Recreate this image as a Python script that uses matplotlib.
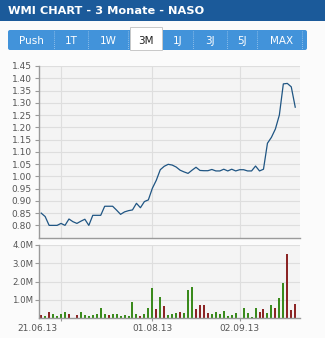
import matplotlib
matplotlib.use("Agg")
import matplotlib.pyplot as plt
from matplotlib.patches import Rectangle, FancyBboxPatch

# --- data (x = weekday slot, 0 = 21.06.13) ---
title = "WMI CHART - 3 Monate - NASO"
buttons = ["Push", "1T", "1W", "3M", "1J", "3J", "5J", "MAX"]
active_button = "3M"

price_days = list(range(1, 66))
price = [0.850, 0.836, 0.800, 0.800, 0.800, 0.808, 0.800, 0.826, 0.815, 0.808,
         0.817, 0.825, 0.800, 0.841, 0.841, 0.841, 0.878, 0.878, 0.878, 0.862,
         0.845, 0.855, 0.860, 0.863, 0.890, 0.872, 0.897, 0.904, 0.951, 0.984,
         1.027, 1.041, 1.049, 1.046, 1.038, 1.025, 1.018, 1.012, 1.025, 1.037,
         1.024, 1.023, 1.023, 1.028, 1.022, 1.022, 1.029, 1.022, 1.029, 1.022,
         1.027, 1.027, 1.022, 1.022, 1.042, 1.022, 1.029, 1.135, 1.159, 1.193,
         1.250, 1.377, 1.379, 1.365, 1.282]

vol_days = [1, 2, 3, 4, 5, 6, 7, 8, 10, 11, 12, 13, 14, 15, 16, 17, 18, 19, 20,
            21, 22, 23, 24, 25, 26, 27, 28, 29, 30, 31, 32, 33, 34, 35, 36, 37,
            38, 39, 40, 41, 42, 43, 44, 45, 46, 47, 48, 49, 50, 52, 53, 54, 55,
            56, 57, 58, 59, 60, 61, 62, 63, 64, 65]
volume = [0.18, 0.13, 0.33, 0.24, 0.13, 0.24, 0.35, 0.24, 0.18, 0.35, 0.18,
          0.13, 0.18, 0.24, 0.57, 0.24, 0.18, 0.24, 0.24, 0.13, 0.18, 0.13,
          0.89, 0.24, 0.13, 0.24, 0.57, 1.64, 0.51, 1.15, 0.67, 0.18, 0.24,
          0.29, 0.35, 0.29, 1.55, 1.72, 0.51, 0.73, 0.73, 0.29, 0.24, 0.35,
          0.24, 0.40, 0.13, 0.18, 0.29, 0.57, 0.29, 0.07, 0.57, 0.35, 0.51,
          0.29, 0.73, 0.57, 1.11, 1.94, 3.52, 0.46, 0.79]  # millions
# g = up day, r = down day
vol_dir = ("rgrggggr" + "rgggggggr" + "gggggggrggg" + "rgrgggrggg"
           + "rrrrggggggg" + "ggggrrggrggrrr")

price_ticks = [0.80, 0.85, 0.90, 0.95, 1.00, 1.05, 1.10, 1.15, 1.20, 1.25,
               1.30, 1.35, 1.40, 1.45]
vol_ticks = [1, 2, 3, 4]
date_ticks = [6, 29, 51]
date_labels = ["", "01.08.13", "02.09.13"]
first_date = (0, "21.06.13")

W, H = 325, 338
BLUE_LINE = "#1f5583"
GREEN = "#3a8a1c"
RED = "#8b2525"
GRID = "#dedede"
SPINE = "#9a9a9a"
TXT = "#555555"

fig = plt.figure(figsize=(W / 100, H / 100), dpi=100, facecolor="#fbfbfb")

# overlay for header and buttons, in pixel coordinates
bg = fig.add_axes([0, 0, 1, 1])
bg.set_xlim(0, W)
bg.set_ylim(H, 0)
bg.axis("off")
bg.add_patch(Rectangle((0, 0), W, 21, color="#1b5a9a", lw=0))
bg.text(8, 11, title, color="white", fontsize=8.2, fontweight="bold",
        va="center", ha="left")

edges = [8, 54, 88, 129, 162, 193, 227, 257, 307]
bg.add_patch(FancyBboxPatch((8, 30), 299, 20, boxstyle="round,pad=0,rounding_size=2",
                            fc="#4293da", ec="none"))
for i, name in enumerate(buttons):
    x0, x1 = edges[i], edges[i + 1]
    if name == active_button:
        bg.add_patch(Rectangle((x0 + 1, 27), x1 - x0 - 1, 23, fc="white",
                               ec="#c8c8c8", lw=0.7))
        bg.text((x0 + x1) / 2, 40.5, name, color="#222222", fontsize=7.5,
                ha="center", va="center")
    else:
        bg.text((x0 + x1) / 2, 40.5, name, color="white", fontsize=7.5,
                ha="center", va="center")
    if i < len(buttons) - 1 and name != active_button and buttons[i + 1] != active_button:
        bg.plot([x1, x1], [31, 49], color="#a9cdef", lw=0.6, ls=(0, (1, 1.5)))
bg.plot([128, 128], [31, 49], color="#a9cdef", lw=0.6, ls=(0, (1, 1.5)))
bg.plot([302, 302], [31, 49], color="#a9cdef", lw=0.6, ls=(0, (1, 1.5)))

xlim = (0.45, 66.2)


def style(ax):
    ax.set_facecolor("#f4f4f4")
    for s in ["top", "right"]:
        ax.spines[s].set_visible(False)
    for s in ["left", "bottom"]:
        ax.spines[s].set_color(SPINE)
        ax.spines[s].set_linewidth(1.0)
    ax.grid(True, color=GRID, lw=0.8)
    ax.set_axisbelow(True)
    ax.set_xlim(*xlim)
    ax.set_xticks(date_ticks)


# price panel
ax = fig.add_axes([39 / W, (H - 238) / H, 261 / W, 172 / H])
style(ax)
ax.plot(price_days, price, color=BLUE_LINE, lw=0.9)
ax.set_ylim(0.7485, 1.45)
ax.set_yticks(price_ticks)
ax.set_yticklabels([f"{v:.2f}" for v in price_ticks])
ax.tick_params(axis="y", length=3, width=0.8, color=SPINE, pad=2.2,
               labelsize=6.5, labelcolor=TXT)
ax.tick_params(axis="x", length=0, labelbottom=False)

# volume panel
axv = fig.add_axes([39 / W, (H - 318) / H, 261 / W, 73 / H])
style(axv)
cols = [GREEN if d == "g" else RED for d in vol_dir]
axv.bar(vol_days, volume, width=0.5, color=cols, lw=0)
axv.set_ylim(0, 4.0)
axv.set_yticks(vol_ticks)
axv.set_yticklabels([f"{v:.1f}M" for v in vol_ticks])
axv.set_xticklabels(date_labels)
axv.tick_params(axis="y", length=3, width=0.8, color=SPINE, pad=1,
                labelsize=6.2, labelcolor=TXT)
axv.tick_params(axis="x", length=2, width=0.8, color=SPINE, pad=2.5,
                labelsize=6.5, labelcolor=TXT)
axv.annotate(first_date[1], xy=(first_date[0], 0), xycoords=("data", "axes fraction"),
             xytext=(0, -4.3), textcoords="offset points", ha="center", va="top",
             fontsize=6.5, color=TXT, annotation_clip=False)

fig.savefig("out.png", dpi=100, facecolor=fig.get_facecolor())
